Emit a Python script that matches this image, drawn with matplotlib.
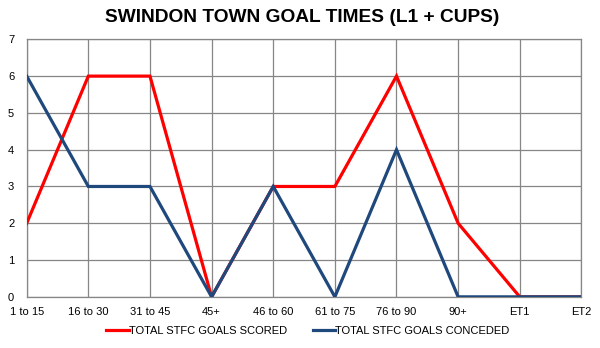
import matplotlib
matplotlib.use('Agg')
import matplotlib.pyplot as plt

plt.rcParams['font.family'] = ['Liberation Sans', 'DejaVu Sans']

# 数据
periods = ['1 to 15', '16 to 30', '31 to 45', '45+', '46 to 60', '61 to 75',
           '76 to 90', '90+', 'ET1', 'ET2']
scored = [2, 6, 6, 0, 3, 3, 6, 2, 0, 0]
conceded = [6, 3, 3, 0, 3, 0, 4, 0, 0, 0]

fig = plt.figure(figsize=(6, 3.48), dpi=100)
ax = fig.add_axes([0.0445, 0.147, 0.9245, 0.74])

x = range(len(periods))
ax.plot(x, scored, color='#FF0000', lw=2.3, label='TOTAL STFC GOALS SCORED',
        solid_joinstyle='miter', zorder=3)
ax.plot(x, conceded, color='#1F497D', lw=2.3, label='TOTAL STFC GOALS CONCEDED',
        solid_joinstyle='miter', zorder=4)

ax.set_xlim(0, len(periods) - 1)
ax.set_ylim(0, 7)
ax.set_xticks(list(x))
ax.set_xticklabels(periods)
ax.set_yticks(range(8))
ax.tick_params(length=0, labelsize=8, pad=7)
ax.tick_params(axis='y', pad=9)
ax.grid(True, color='#868686', lw=0.9)
ax.set_axisbelow(True)
for s in ax.spines.values():
    s.set_color('#868686')
    s.set_linewidth(0.9)

fig.suptitle('SWINDON TOWN GOAL TIMES (L1 + CUPS)', fontsize=13.8, fontweight='bold',
             x=0.504, y=0.951, va='center')
fig.legend(loc='center', bbox_to_anchor=(0.513, 0.05), ncol=2, frameon=False,
           fontsize=8, handlelength=2.0, handletextpad=0.0, columnspacing=2.35)

fig.savefig('out.png', dpi=100)
